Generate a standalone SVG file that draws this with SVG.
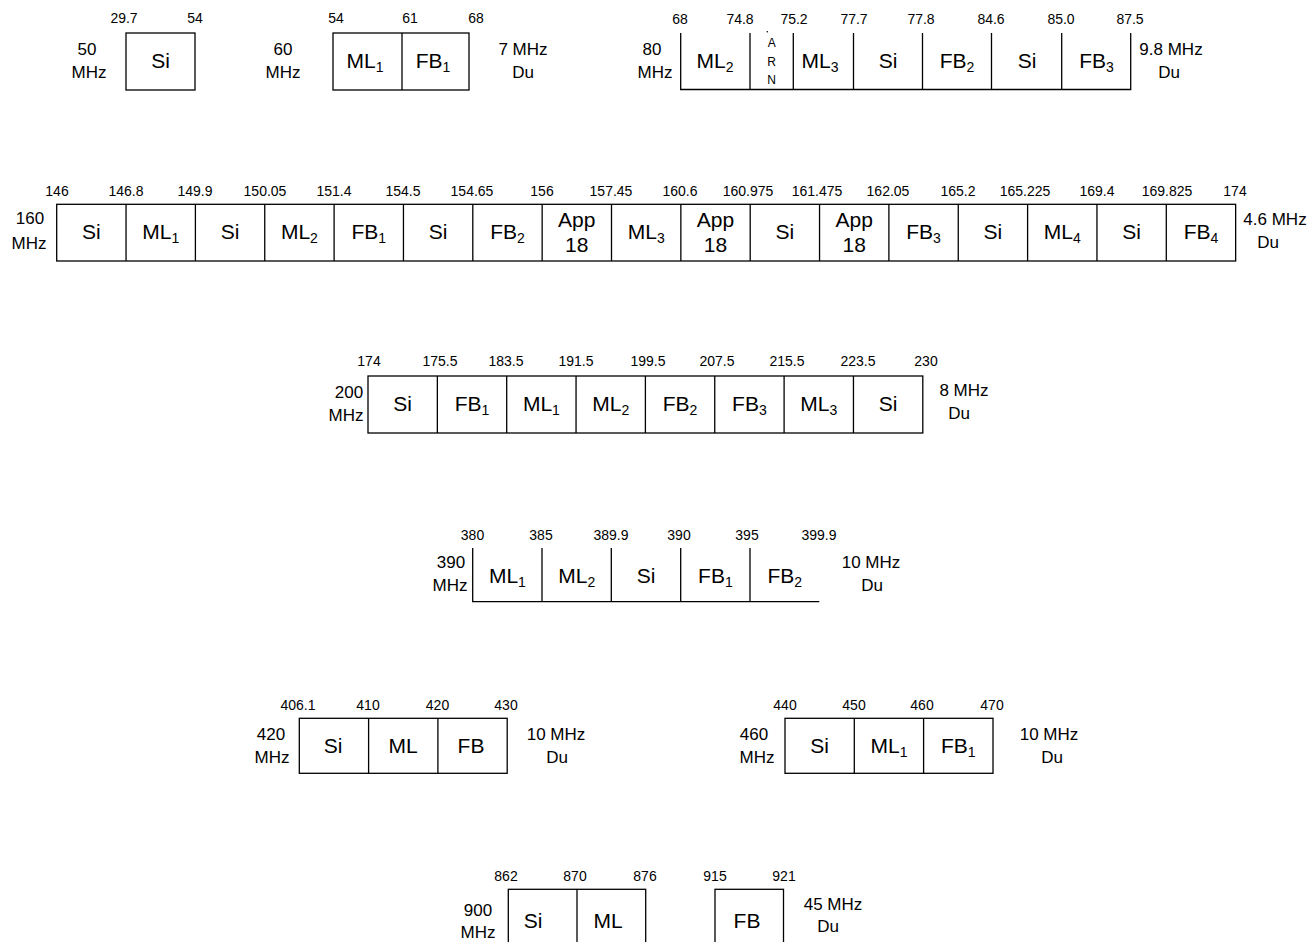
<svg xmlns="http://www.w3.org/2000/svg" width="1313" height="942" viewBox="0 0 1313 942">
<style>
text{font-family:"Liberation Sans",Arial,sans-serif;fill:#000;text-anchor:middle}
.c{font-size:21px}
.sb{font-size:14px}
.t{font-size:14px}
.s{font-size:17px}
.a{font-size:12px}
.ln{stroke:#000;stroke-width:1.3;fill:none}
</style>
<rect width="1313" height="942" fill="#fff"/>
<g id="connectors"/>

<g id="band-50">
<rect class="ln" x="126" y="33" width="69" height="57"/>
<text class="t" x="124" y="23">29.7</text><text class="t" x="195" y="23">54</text>
<text class="s" x="87" y="55">50</text><text class="s" x="89" y="78">MHz</text>
<text class="c" x="160.5" y="68">Si</text>
</g>

<g id="band-60">
<rect class="ln" x="333" y="33" width="136" height="57"/>
<line class="ln" x1="402" y1="33" x2="402" y2="90"/>
<text class="t" x="336" y="23">54</text><text class="t" x="410" y="23">61</text><text class="t" x="476" y="23">68</text>
<text class="s" x="283" y="55">60</text><text class="s" x="283" y="78">MHz</text>
<text class="c" x="365" y="68">ML<tspan class="sb" dy="4">1</tspan></text>
<text class="c" x="433" y="68">FB<tspan class="sb" dy="4">1</tspan></text>
<text class="s" x="523" y="55">7 MHz</text><text class="s" x="523" y="78">Du</text>
</g>

<g id="band-80">
<path class="ln" d="M680.7 33V89.5H1130.7V33M750 33V89.5M793.3 33V89.5M853.5 33V89.5M922.5 33V89.5M991.5 33V89.5M1061.7 33V89.5"/>
<circle cx="767.3" cy="31.7" r="0.8" fill="#000"/>
<text class="t" x="680" y="24">68</text><text class="t" x="740" y="24">74.8</text><text class="t" x="794" y="24">75.2</text><text class="t" x="854" y="24">77.7</text><text class="t" x="921" y="24">77.8</text><text class="t" x="991" y="24">84.6</text><text class="t" x="1061" y="24">85.0</text><text class="t" x="1130" y="24">87.5</text>
<text class="s" x="652" y="55">80</text><text class="s" x="655" y="78">MHz</text>
<text class="c" x="715" y="68">ML<tspan class="sb" dy="4">2</tspan></text>
<text class="a" x="771.7" y="47">A</text><text class="a" x="771.7" y="66">R</text><text class="a" x="771.7" y="84">N</text>
<text class="c" x="820" y="68">ML<tspan class="sb" dy="4">3</tspan></text>
<text class="c" x="888" y="68">Si</text>
<text class="c" x="957" y="68">FB<tspan class="sb" dy="4">2</tspan></text>
<text class="c" x="1027" y="68">Si</text>
<text class="c" x="1096.5" y="68">FB<tspan class="sb" dy="4">3</tspan></text>
<text class="s" x="1171" y="55">9.8 MHz</text><text class="s" x="1169" y="78">Du</text>
</g>

<g id="band-160">
<rect class="ln" x="56.7" y="204.3" width="1178.95" height="56.7"/>
<path class="ln" d="M126.05 204.3V261M195.4 204.3V261M264.75 204.3V261M334.1 204.3V261M403.45 204.3V261M472.8 204.3V261M542.15 204.3V261M611.5 204.3V261M680.85 204.3V261M750.2 204.3V261M819.55 204.3V261M888.9 204.3V261M958.25 204.3V261M1027.6 204.3V261M1096.95 204.3V261M1166.3 204.3V261"/>
<text class="t" x="57" y="196">146</text><text class="t" x="126" y="196">146.8</text><text class="t" x="195" y="196">149.9</text><text class="t" x="265" y="196">150.05</text><text class="t" x="334" y="196">151.4</text><text class="t" x="403" y="196">154.5</text><text class="t" x="472" y="196">154.65</text><text class="t" x="542" y="196">156</text><text class="t" x="611" y="196">157.45</text><text class="t" x="680" y="196">160.6</text><text class="t" x="748" y="196">160.975</text><text class="t" x="817" y="196">161.475</text><text class="t" x="888" y="196">162.05</text><text class="t" x="958" y="196">165.2</text><text class="t" x="1025" y="196">165.225</text><text class="t" x="1097" y="196">169.4</text><text class="t" x="1167" y="196">169.825</text><text class="t" x="1235" y="196">174</text>
<text class="s" x="30" y="224">160</text><text class="s" x="29" y="249">MHz</text>
<text class="c" x="91.4" y="239">Si</text>
<text class="c" x="160.7" y="239">ML<tspan class="sb" dy="4">1</tspan></text>
<text class="c" x="230.1" y="239">Si</text>
<text class="c" x="299.4" y="239">ML<tspan class="sb" dy="4">2</tspan></text>
<text class="c" x="368.8" y="239">FB<tspan class="sb" dy="4">1</tspan></text>
<text class="c" x="438.1" y="239">Si</text>
<text class="c" x="507.5" y="239">FB<tspan class="sb" dy="4">2</tspan></text>
<text class="c" x="576.8" y="227">App</text><text class="c" x="576.8" y="252">18</text>
<text class="c" x="646.2" y="239">ML<tspan class="sb" dy="4">3</tspan></text>
<text class="c" x="715.5" y="227">App</text><text class="c" x="715.5" y="252">18</text>
<text class="c" x="784.9" y="239">Si</text>
<text class="c" x="854.2" y="227">App</text><text class="c" x="854.2" y="252">18</text>
<text class="c" x="923.6" y="239">FB<tspan class="sb" dy="4">3</tspan></text>
<text class="c" x="992.9" y="239">Si</text>
<text class="c" x="1062.3" y="239">ML<tspan class="sb" dy="4">4</tspan></text>
<text class="c" x="1131.6" y="239">Si</text>
<text class="c" x="1201" y="239">FB<tspan class="sb" dy="4">4</tspan></text>
<text class="s" x="1275" y="225">4.6 MHz</text><text class="s" x="1268" y="248">Du</text>
</g>

<g id="band-200">
<rect class="ln" x="368" y="376" width="554.8" height="57"/>
<path class="ln" d="M437.35 376V433M506.7 376V433M576.05 376V433M645.4 376V433M714.75 376V433M784.1 376V433M853.45 376V433"/>
<text class="t" x="369" y="366">174</text><text class="t" x="440" y="366">175.5</text><text class="t" x="506" y="366">183.5</text><text class="t" x="576" y="366">191.5</text><text class="t" x="648" y="366">199.5</text><text class="t" x="717" y="366">207.5</text><text class="t" x="787" y="366">215.5</text><text class="t" x="858" y="366">223.5</text><text class="t" x="926" y="366">230</text>
<text class="s" x="349" y="398">200</text><text class="s" x="346" y="421">MHz</text>
<text class="c" x="402.7" y="411">Si</text>
<text class="c" x="472" y="411">FB<tspan class="sb" dy="4">1</tspan></text>
<text class="c" x="541.4" y="411">ML<tspan class="sb" dy="4">1</tspan></text>
<text class="c" x="610.7" y="411">ML<tspan class="sb" dy="4">2</tspan></text>
<text class="c" x="680.1" y="411">FB<tspan class="sb" dy="4">2</tspan></text>
<text class="c" x="749.4" y="411">FB<tspan class="sb" dy="4">3</tspan></text>
<text class="c" x="818.8" y="411">ML<tspan class="sb" dy="4">3</tspan></text>
<text class="c" x="888.1" y="411">Si</text>
<text class="s" x="964" y="396">8 MHz</text><text class="s" x="959" y="419">Du</text>
</g>

<g id="band-390">
<path class="ln" d="M472.7 548V601.7H819.3M542 548V601.7M611.3 548V601.7M680.7 548V601.7M750 548V601.7"/>
<text class="t" x="472.5" y="540">380</text><text class="t" x="541" y="540">385</text><text class="t" x="611" y="540">389.9</text><text class="t" x="679" y="540">390</text><text class="t" x="747" y="540">395</text><text class="t" x="819" y="540">399.9</text>
<text class="s" x="451" y="568">390</text><text class="s" x="450" y="591">MHz</text>
<text class="c" x="507.4" y="583">ML<tspan class="sb" dy="4">1</tspan></text>
<text class="c" x="576.7" y="583">ML<tspan class="sb" dy="4">2</tspan></text>
<text class="c" x="646" y="583">Si</text>
<text class="c" x="715.4" y="583">FB<tspan class="sb" dy="4">1</tspan></text>
<text class="c" x="784.7" y="583">FB<tspan class="sb" dy="4">2</tspan></text>
<text class="s" x="871" y="568">10 MHz</text><text class="s" x="872" y="591">Du</text>
</g>

<g id="band-420">
<rect class="ln" x="299.3" y="718.3" width="207.9" height="55"/>
<path class="ln" d="M368.6 718.3V773.3M437.9 718.3V773.3"/>
<text class="t" x="298" y="710">406.1</text><text class="t" x="368" y="710">410</text><text class="t" x="437.5" y="710">420</text><text class="t" x="506" y="710">430</text>
<text class="s" x="271" y="740">420</text><text class="s" x="272" y="763">MHz</text>
<text class="c" x="333" y="753">Si</text>
<text class="c" x="403" y="753">ML</text>
<text class="c" x="471" y="753">FB</text>
<text class="s" x="556" y="740">10 MHz</text><text class="s" x="557" y="763">Du</text>
</g>

<g id="band-460">
<rect class="ln" x="785" y="718.3" width="208" height="55"/>
<path class="ln" d="M854.3 718.3V773.3M923.6 718.3V773.3"/>
<text class="t" x="785" y="710">440</text><text class="t" x="854" y="710">450</text><text class="t" x="922" y="710">460</text><text class="t" x="992" y="710">470</text>
<text class="s" x="754" y="740">460</text><text class="s" x="757" y="763">MHz</text>
<text class="c" x="819.7" y="753">Si</text>
<text class="c" x="889" y="753">ML<tspan class="sb" dy="4">1</tspan></text>
<text class="c" x="958.3" y="753">FB<tspan class="sb" dy="4">1</tspan></text>
<text class="s" x="1049" y="740">10 MHz</text><text class="s" x="1052" y="763">Du</text>
</g>

<g id="band-900">
<rect class="ln" x="508.3" y="889.3" width="137.4" height="57"/>
<line class="ln" x1="577" y1="889.3" x2="577" y2="946.3"/>
<rect class="ln" x="715" y="889.3" width="68.5" height="57"/>
<text class="t" x="506" y="881">862</text><text class="t" x="575" y="881">870</text><text class="t" x="645" y="881">876</text><text class="t" x="715" y="881">915</text><text class="t" x="784" y="881">921</text>
<text class="s" x="478" y="916">900</text><text class="s" x="478" y="938">MHz</text>
<text class="c" x="533" y="928">Si</text>
<text class="c" x="608" y="928">ML</text>
<text class="c" x="747" y="928">FB</text>
<text class="s" x="833" y="910">45 MHz</text><text class="s" x="828" y="932">Du</text>
</g>
</svg>
